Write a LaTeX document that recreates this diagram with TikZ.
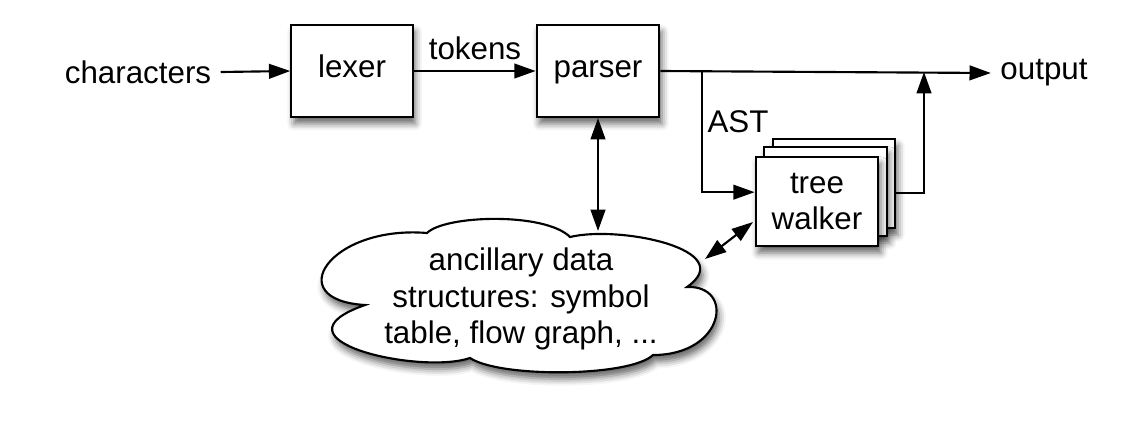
\documentclass[tikz,border=0pt]{standalone}
\usepackage{fontspec}
\setmainfont{Liberation Sans}
\usetikzlibrary{arrows.meta,shadows.blur}
\begin{document}
\begin{tikzpicture}[x=0.75pt,y=-0.75pt,
  font=\fontsize{23.5}{27.5}\selectfont,
  shad/.style={blur shadow={shadow xshift=2pt, shadow yshift=-5pt, shadow blur radius=5pt, shadow opacity=60}},
  box/.style={draw, line width=1.6pt, fill=white, minimum width=91pt, minimum height=69pt,
              text height=1.0em, text depth=0pt, inner sep=0pt, shad},
  wbox/.style={draw, line width=1.6pt, fill=white, minimum width=92pt, minimum height=67pt,
              align=center, inner sep=0pt, shad},
  lbl/.style={inner sep=3pt},
  tip/.style={-{Triangle[length=16pt,width=11pt,fill=black]}},
  conn/.style={line width=1.6pt, tip},
  bconn/.style={line width=1.6pt, {Triangle[length=16pt,width=11pt,fill=black]}-{Triangle[length=16pt,width=11pt,fill=black]}},
  cloudline/.style={draw, line width=1.6pt, fill=white, line join=miter, shad},
]
\useasboundingbox (0,0) rectangle (1142,422);

% nodes
\node[lbl, inner xsep=7pt] (chars) at (138,72) {characters};
\node[box] (lexer) at (352,71) {lexer};
\node[box, minimum width=92pt] (parser) at (598,71) {parser};
\node[lbl, inner xsep=7pt] (output) at (1044,73) {output};
\node[lbl] (tokens) at (475,48) {tokens};
\node[lbl] (ast) at (738,122) {AST};

\node[wbox] (twb) at (834,183.5) {};
\node[wbox] (twm) at (825.5,191.5) {};
\node[wbox] (tw) at (817,201.5) {tree\\walker};

% cloud
\path[cloudline] (365,305)
  .. controls (280,300) and (330,225) .. (427,233)
  .. controls (445,215) and (545,212) .. (570,237)
  .. controls (620,225) and (740,250) .. (687,287)
  .. controls (735,285) and (725,355) .. (653,355)
  .. controls (630,377) and (500,378) .. (470,358)
  .. controls (420,375) and (265,340) .. cycle;
\node[align=center, inner sep=0pt] (cloudtext) at (521,299) {ancillary data\\structures: symbol\\table, flow graph, ...};

% coordinates
\coordinate (br) at (702,71);
\coordinate (ret) at (924,72);
\coordinate (cl1) at (598,231);
\coordinate (cl2) at (705,259);
\coordinate (tw2) at (753,222);

% connectors
\draw[conn] (chars.east) -- (lexer.west);
\draw[conn] (lexer.east) -- (parser.west);
\draw[conn] (parser.east) -- (output.west);
\draw[conn] (br) |- ([yshift=7pt]tw.west);
\draw[conn] ([yshift=-7pt]twb.east) -| (ret);
\draw[bconn] (parser.south) -- (cl1);
\draw[bconn] (cl2) -- (tw2);
\end{tikzpicture}
\end{document}
